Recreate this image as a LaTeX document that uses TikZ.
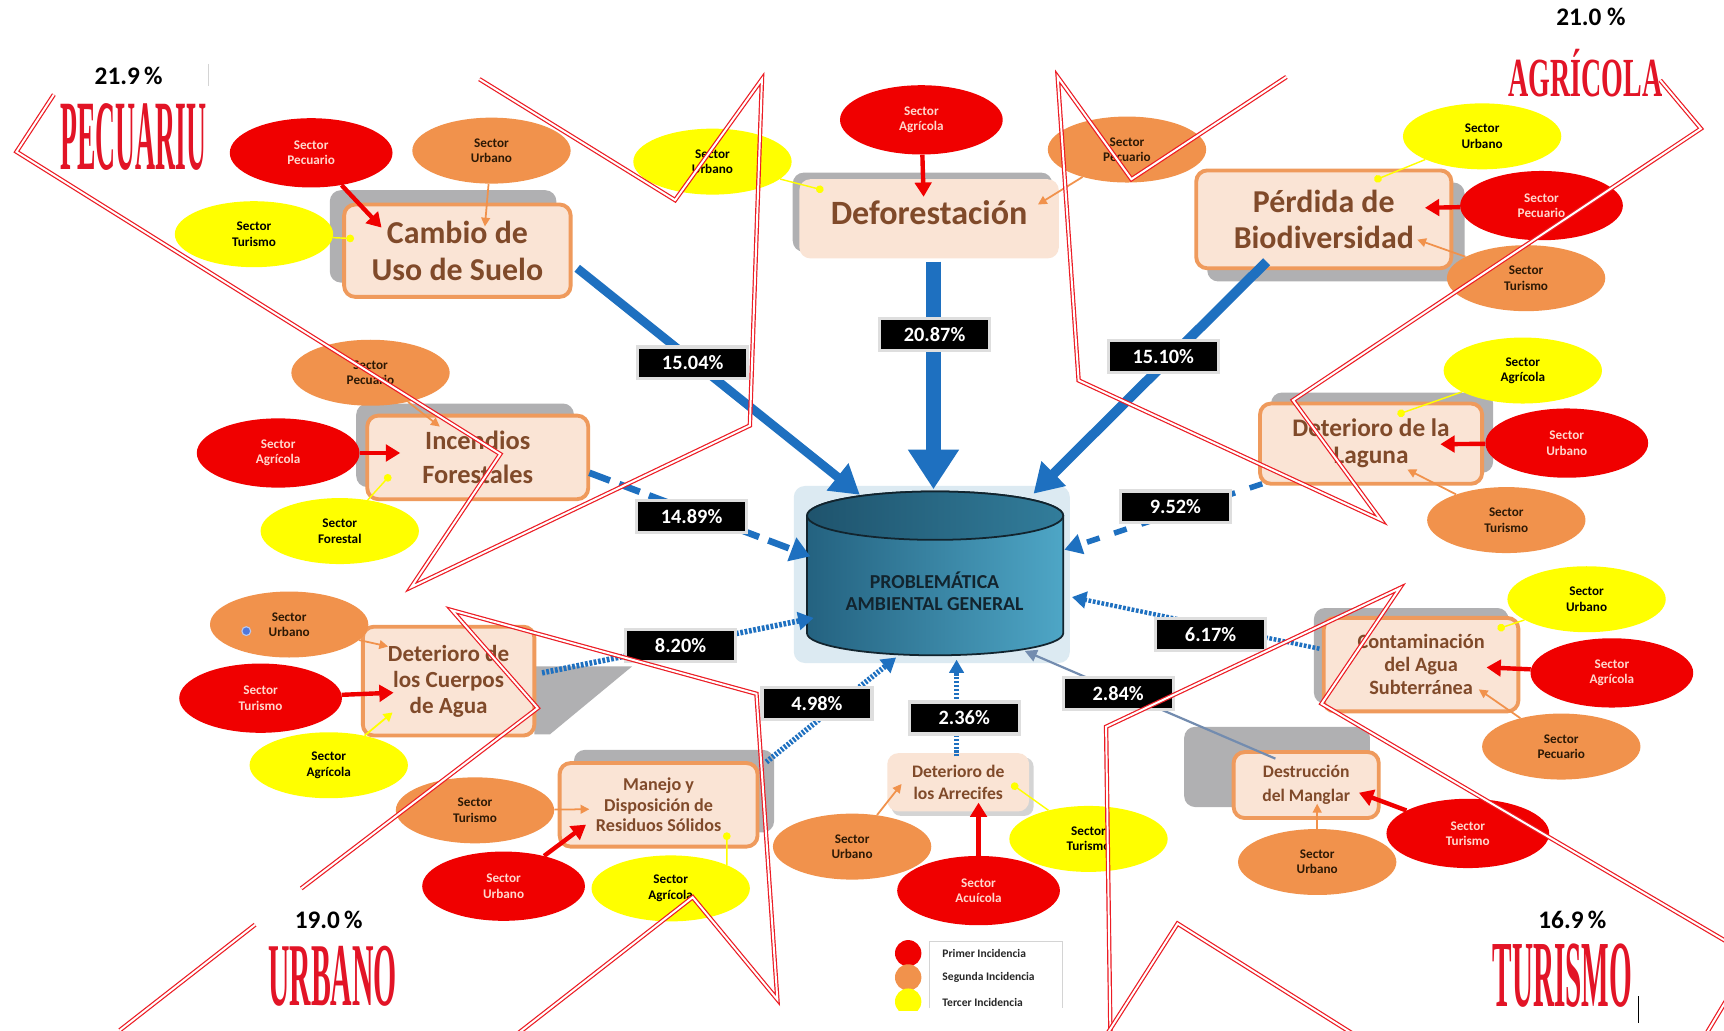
\documentclass[tikz,border=0pt]{standalone}
\usepackage{graphicx}
\usepackage{fontspec}
\setmainfont{Carlito}
\newfontfamily\wafont{Liberation Serif}
\usetikzlibrary{arrows.meta,shapes.geometric}
\definecolor{peach}{RGB}{250,228,213}
\definecolor{boxor}{RGB}{239,154,92}
\definecolor{shgrey}{RGB}{176,176,178}
\definecolor{lshgrey}{RGB}{212,212,212}
\definecolor{brownt}{RGB}{128,74,42}
\definecolor{secred}{RGB}{240,0,0}
\definecolor{secor}{RGB}{241,146,76}
\definecolor{secyel}{RGB}{255,255,0}
\definecolor{redtxt}{RGB}{255,215,205}
\definecolor{ortxt}{RGB}{45,25,5}
\definecolor{arrblue}{RGB}{30,112,192}
\definecolor{lineblue}{RGB}{115,140,175}
\definecolor{wared}{RGB}{226,20,38}
\definecolor{dred}{RGB}{236,28,36}
\definecolor{cylL}{RGB}{36,98,128}
\definecolor{cylR}{RGB}{78,166,198}
\definecolor{cylT}{RGB}{50,125,155}
\definecolor{cyline}{RGB}{18,36,46}
\definecolor{halo}{RGB}{220,234,242}
\definecolor{pctsh}{RGB}{222,222,222}
\definecolor{legtxt}{RGB}{40,40,40}
\definecolor{dotblue}{RGB}{80,120,220}
\begin{document}
\begin{tikzpicture}[x=1pt,y=-1pt,
  sec/.style={ellipse,minimum width=144pt,minimum height=60pt,inner sep=0pt,align=center,font=\fontsize{12}{14}\selectfont\bfseries},
  rsec/.style={sec,fill=secred,text=redtxt,minimum width=148pt,minimum height=63pt},
  osec/.style={sec,fill=secor,text=ortxt},
  ysec/.style={sec,fill=secyel,text=black},
  prob/.style={rectangle,rounded corners=10pt,fill=peach,draw=boxor,line width=3.5pt,text=brownt,align=center,inner sep=0pt},
  probnb/.style={prob,draw=none},
  shbox/.style={fill=shgrey,rounded corners=10pt},
  pct/.style={rectangle,fill=black,draw=pctsh,line width=3pt,text=white,minimum width=100pt,minimum height=29pt,inner sep=0pt,font=\fontsize{18.5}{20}\selectfont\bfseries},
  redarr/.style={draw=secred,line width=4pt,-{Triangle[length=13pt,width=15pt]}},
  orarr/.style={draw=secor,line width=1.6pt,-{Triangle[length=8pt,width=8pt]}},
  yelarr/.style={draw=secyel,line width=1.3pt,-{Circle[length=7pt]}},
  yeltri/.style={draw=secyel,line width=1.6pt,-{Triangle[length=8pt,width=9pt]}},
  dbl/.style={draw=dred,line width=1.1pt,double=white,double distance=1.8pt,line join=miter},
  blu/.style={draw=arrblue},
  pctlab/.style={font=\fontsize{23}{25}\selectfont\bfseries,text=black,inner sep=0pt},
  wa/.style={inner sep=0pt},
  legt/.style={anchor=west,inner sep=0pt,text=legtxt,font=\fontsize{10.5}{12}\selectfont\bfseries}
]
\useasboundingbox (0,0) rectangle (1568,937);
\clip (0,0) rectangle (1568,937);
\fill[white] (0,0) rectangle (1568,937);

% ---------- problem boxes ----------
\fill[shbox] (300,173) rectangle (506,257);
\node[prob,minimum width=206pt,minimum height=84pt,font=\fontsize{29}{34}\selectfont\bfseries] (cambio) at (416,228) {Cambio de\\Uso de Suelo};

\fill[shbox] (721,157) rectangle (957,229);
\node[probnb,minimum width=236pt,minimum height=72pt,font=\fontsize{31}{34}\selectfont\bfseries] (defo) at (845,199) {\raisebox{12pt}{Deforestación}};

\fill[shbox] (1098,166) rectangle (1332,256);
\node[prob,minimum width=232pt,minimum height=89pt,font=\fontsize{29}{32.5}\selectfont\bfseries] (perd) at (1204,199.5) {Pérdida de\\Biodiversidad};

\fill[shbox] (324,367) rectangle (522,443);
\node[prob,minimum width=201pt,minimum height=76pt,font=\fontsize{24}{31}\selectfont\bfseries] (incend) at (434.5,416) {Incendios\\Forestales};

\fill[shbox] (1156,357) rectangle (1358,430);
\node[prob,minimum width=202pt,minimum height=73pt,font=\fontsize{23}{24.5}\selectfont\bfseries] (laguna) at (1247,403.5) {Deterioro de la\\Laguna};

\fill[shgrey] (486,606) -- (575,606) -- (500,668) -- (486,668) -- cycle;
\node[prob,minimum width=156pt,minimum height=99pt,font=\fontsize{21}{23.5}\selectfont\bfseries] (cuerpos) at (408,619.5) {Deterioro de\\los Cuerpos\\de Agua};

\fill[shbox] (1195,553) rectangle (1372,640);
\node[prob,minimum width=177pt,minimum height=85pt,font=\fontsize{18.5}{21}\selectfont\bfseries] (contam) at (1292.5,604.5) {Contaminación\\del Agua\\Subterránea};

\fill[shbox] (522,682) rectangle (704,757);
\node[prob,minimum width=180pt,minimum height=76pt,font=\fontsize{16.5}{18.5}\selectfont\bfseries] (manejo) at (599,732) {Manejo y\\Disposición de\\Residuos Sólidos};

\fill[lshgrey,rounded corners=8pt] (811,689) rectangle (940,742);
\node[probnb,minimum width=129pt,minimum height=53pt,font=\fontsize{16}{19.5}\selectfont\bfseries] (arrec) at (871.5,711.5) {Deterioro de\\los Arrecifes};

\fill[shbox] (1077,661) rectangle (1246,734);
\node[prob,minimum width=132pt,minimum height=60pt,font=\fontsize{16}{21.5}\selectfont\bfseries] (mangl) at (1188,714) {Destrucción\\del Manglar};

% ---------- central cylinder ----------
\fill[halo,rounded corners=10pt] (722,442) rectangle (973,603);
\path[left color=cylL,right color=cylR,draw=cyline,line width=1.6pt]
  (734,469) -- (734,576) arc[start angle=180,end angle=360,x radius=116.5pt,y radius=20pt]
  -- (967,469) arc[start angle=0,end angle=180,x radius=116.5pt,y radius=22pt] -- cycle;
\path[left color=cylL!85!black,right color=cylT,draw=cyline,line width=1.6pt] (850.5,469) ellipse [x radius=116.5pt,y radius=22pt];
\node[font=\fontsize{18}{20}\selectfont\bfseries,text=cyline,align=center] (probl) at (850,538) {PROBLEMÁTICA\\AMBIENTAL GENERAL};

% ---------- blue arrows ----------
\coordinate (s1) at (525,244);  \coordinate (t1) at (782,450);
\coordinate (s2) at (849,238);  \coordinate (t2) at (849,445);
\coordinate (s3) at (1152,238); \coordinate (t3) at (940,449);
\coordinate (s4) at (536,430);  \coordinate (t4) at (737,506);
\coordinate (s5) at (1148,440); \coordinate (t5) at (968,500);
\coordinate (s6) at (493,612);  \coordinate (t6) at (740,562);
\coordinate (s7) at (1200,590); \coordinate (t7) at (975,543);
\coordinate (s8) at (697,693);  \coordinate (t8) at (815,598);
\coordinate (s9) at (870,688);  \coordinate (t9) at (870,600);
\coordinate (s10) at (1160,690); \coordinate (t10) at (932,592);
\draw[blu,line width=8pt,-{Triangle[length=26pt,width=30pt]}] (s1) -- (t1);
\draw[blu,line width=13pt,-{Triangle[length=36pt,width=44pt]}] (s2) -- (t2);
\draw[blu,line width=9pt,-{Triangle[length=26pt,width=30pt]}] (s3) -- (t3);
\draw[blu,line width=6pt,dash pattern=on 20pt off 9pt,-{Triangle[length=18pt,width=22pt]}] (s4) -- (t4);
\draw[blu,line width=5pt,dash pattern=on 12pt off 14pt,-{Triangle[length=16pt,width=18pt]}] (s5) -- (t5);
\draw[blu,line width=5pt,dash pattern=on 2.5pt off 1.5pt,-{Triangle[length=14pt,width=16pt]}] (s6) -- (t6);
\draw[blu,line width=4pt,dash pattern=on 2.5pt off 1.5pt,-{Triangle[length=13pt,width=15pt]}] (s7) -- (t7);
\draw[blu,line width=5pt,dash pattern=on 2pt off 1.5pt,-{Triangle[length=13pt,width=15pt]}] (s8) -- (t8);
\draw[blu,line width=4pt,dash pattern=on 2pt off 1.5pt,-{Triangle[length=12pt,width=13pt]}] (s9) -- (t9);
\draw[lineblue,line width=2pt,-{Triangle[length=11pt,width=11pt]}] (s10) -- (t10);

% ---------- percentage boxes ----------
\node[pct] (p1) at (630,330) {15.04\%};
\node[pct] (p2) at (850,304) {20.87\%};
\node[pct] (p3) at (1058,324) {15.10\%};
\node[pct] (p4) at (629,470) {14.89\%};
\node[pct] (p5) at (1069,461) {9.52\%};
\node[pct] (p6) at (619,587) {8.20\%};
\node[pct] (p7) at (1101,577) {6.17\%};
\node[pct] (p8) at (743,640) {4.98\%};
\node[pct] (p9) at (877,653) {2.36\%};
\node[pct] (p10) at (1017,631) {2.84\%};

% ---------- sector ellipses ----------
\node[rsec] (cPec) at (283,139) {Sector\\Pecuario};
\node[osec] (cUrb) at (447,137) {Sector\\Urbano};
\node[ysec] (cTur) at (231,213) {Sector\\Turismo};
\node[rsec] (dAgr) at (838,109) {Sector\\Agrícola};
\node[ysec] (dUrb) at (648,147) {Sector\\Urbano};
\node[osec] (dPec) at (1025,136) {Sector\\Pecuario};
\node[ysec] (pUrb) at (1348,124) {Sector\\Urbano};
\node[rsec] (pPec) at (1402,187) {Sector\\Pecuario};
\node[osec] (pTur) at (1388,253) {Sector\\Turismo};
\node[osec] (iPec) at (337,339) {Sector\\Pecuario};
\node[rsec] (iAgr) at (253,412) {Sector\\Agrícola};
\node[ysec] (iFor) at (309,483) {Sector\\Forestal};
\node[ysec] (lAgr) at (1385,337) {Sector\\Agrícola};
\node[rsec] (lUrb) at (1425,403) {Sector\\Urbano};
\node[osec] (lTur) at (1370,473) {Sector\\Turismo};
\node[osec] (cuUrb) at (263,568) {Sector\\Urbano};
\node[rsec] (cuTur) at (237,635) {Sector\\Turismo};
\node[ysec] (cuAgr) at (299,696) {Sector\\Agrícola};
\node[ysec] (coUrb) at (1443,545) {Sector\\Urbano};
\node[rsec] (coAgr) at (1466,612) {Sector\\Agrícola};
\node[osec] (coPec) at (1420,679) {Sector\\Pecuario};
\node[osec] (mTur) at (432,737) {Sector\\Turismo};
\node[rsec] (mUrb) at (458,806) {Sector\\Urbano};
\node[ysec] (mAgr) at (610,808) {Sector\\Agrícola};
\node[osec] (aUrb) at (775,770) {Sector\\Urbano};
\node[rsec] (aAcu) at (890,810) {Sector\\Acuícola};
\node[ysec] (aTur) at (990,763) {Sector\\Turismo};
\node[osec] (gUrb) at (1198,784) {Sector\\Urbano};
\node[rsec] (gTur) at (1335,758) {Sector\\Turismo};

\node[circle,fill=dotblue,draw=dotblue!40!white,line width=1pt,minimum size=8pt,inner sep=0pt] (bdot) at (224,574) {};

% ---------- sector arrows ----------
\coordinate (ca1) at (347,207); \coordinate (ca2) at (441,206); \coordinate (ca3) at (322,217);
\draw[redarr] (cPec) -- (ca1);
\draw[orarr] (cUrb) -- (ca2);
\draw[yelarr] (cTur) -- (ca3);
\coordinate (da1) at (840,179); \coordinate (da2) at (749,173); \coordinate (da3) at (944,186);
\draw[redarr] (dAgr) -- (da1);
\draw[yelarr] (dUrb) -- (da2);
\draw[orarr] (dPec) -- (da3);
\coordinate (pa1) at (1250,164); \coordinate (pa2) at (1296,189); \coordinate (pa3) at (1289,218);
\draw[yelarr] (pUrb) -- (pa1);
\draw[redarr] (pPec) -- (pa2);
\draw[orarr] (pTur) -- (pa3);
\coordinate (ia1) at (400,388); \coordinate (ia2) at (364,412); \coordinate (ia3) at (355,432);
\draw[orarr] (iPec) -- (ia1);
\draw[redarr] (iAgr) -- (ia2);
\draw[yelarr] (iFor) -- (ia3);
\coordinate (la1) at (1271,377); \coordinate (la2) at (1310,404); \coordinate (la3) at (1280,427);
\draw[yelarr] (lAgr) -- (la1);
\draw[redarr] (lUrb) -- (la2);
\draw[orarr] (lTur) -- (la3);
\coordinate (cua1) at (353,588); \coordinate (cua2) at (358,630); \coordinate (cua3) at (357,648);
\draw[orarr] (cuUrb) -- (cua1);
\draw[redarr] (cuTur) -- (cua2);
\draw[yeltri] (cuAgr) -- (cua3);
\coordinate (coa1) at (1362,572); \coordinate (coa2) at (1352,607); \coordinate (coa3) at (1345,627);
\draw[yelarr] (coUrb) -- (coa1);
\draw[redarr] (coAgr) -- (coa2);
\draw[orarr] (coPec) -- (coa3);
\coordinate (ma1) at (536,736); \coordinate (ma2) at (533,750); \coordinate (ma3) at (661,757);
\draw[orarr] (mTur) -- (ma1);
\draw[redarr] (mUrb) -- (ma2);
\draw[yelarr] (mAgr.north east) -- (ma3);
\coordinate (aa1) at (820,713); \coordinate (aa2) at (890,730); \coordinate (aa3) at (920,713);
\draw[orarr] (aUrb) -- (aa1);
\draw[redarr] (aAcu.north) -- (aa2);
\draw[yelarr] (aTur) -- (aa3);
\coordinate (ga1) at (1198,731); \coordinate (ga2) at (1236,721);
\draw[orarr] (gUrb.north) -- (ga1);
\draw[redarr] (gTur) -- (ga2);

% ---------- red double outlines ----------
\draw[dbl] (436,72) -- (614,182) -- (693,72) -- (682,387) -- (374,534) -- (455,413) -- (15,138) -- (49,86);
\draw[dbl] (1170,70) -- (1029,163) -- (962,70) -- (981,346) -- (1256,473) -- (1176,364) -- (1547,117) -- (1510,73);
\draw[dbl] (109,937) -- (232,841);
\draw[dbl] (274,808) -- (489,644) -- (411,555) -- (688,631) -- (707,909) -- (630,816) -- (471,940);
\draw[dbl] (1580,862) -- (1202,640) -- (1273,535) -- (1006,661) -- (1010,945);
\draw[dbl] (1004,945) -- (1071,840) -- (1238,945);
\draw[dbl] (1552,940) -- (1570,910);

% ---------- sector totals and titles ----------
\node[pctlab] (tot1) at (117,69) {21.9\,\%};
\node[pctlab] (tot2) at (1447,15) {21.0 \%};
\node[pctlab] (tot3) at (299,837) {19.0\,\%};
\node[pctlab] (tot4) at (1430,837) {16.9\,\%};
\node[wa] (wa1) at (121.5,125) {\resizebox{133pt}{60pt}{\wafont\bfseries\color{wared}PECUARIU}};
\node[wa] (wa2) at (1442,66.5) {\resizebox{140pt}{43pt}{\wafont\bfseries\color{wared}AGRÍCOLA}};
\node[wa] (wa3) at (302.5,888) {\resizebox{117pt}{54pt}{\wafont\bfseries\color{wared}URBANO}};
\node[wa] (wa4) at (1421,887) {\resizebox{127pt}{57pt}{\wafont\bfseries\color{wared}TURISMO}};
\draw[lshgrey,line width=1pt] (190,58) -- (190,78);
\draw[black,line width=1pt] (1490,906) -- (1490,930);

% ---------- legend ----------
\begin{scope}
\clip (800,850) rectangle (980,919);
\node[circle,fill=secred,minimum size=24pt,inner sep=0pt] (lg1) at (826,867) {};
\node[circle,fill=secor,minimum size=24pt,inner sep=0pt] (lg2) at (826,889) {};
\node[circle,fill=secyel,minimum size=24pt,inner sep=0pt] (lg3) at (826,911) {};
\end{scope}
\draw[lshgrey,line width=1pt] (845,917) -- (845,856) -- (966,856) -- (966,917);
\node[legt] (lt1) at (857,867) {Primer Incidencia};
\node[legt] (lt2) at (857,889) {Segunda Incidencia};
\node[legt] (lt3) at (857,912) {Tercer Incidencia};
\end{tikzpicture}
\end{document}
